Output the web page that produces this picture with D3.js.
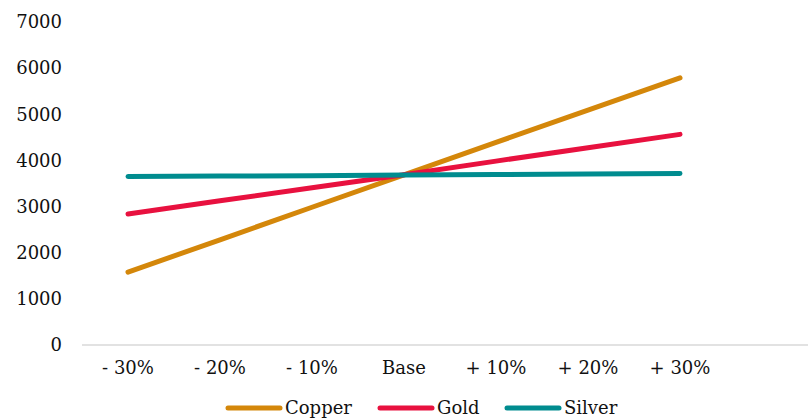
<!DOCTYPE html>
<html>
<head>
<meta charset="utf-8">
<script src="https://cdn.jsdelivr.net/npm/d3@7"></script>
<style>
  html, body { margin: 0; padding: 0; background: #fff; }
  svg { display: block; }
  text { font-family: "DejaVu Serif", "Liberation Serif", serif; fill: #111; }
</style>
</head>
<body>
<svg id="chart" width="808" height="418"></svg>
<script>
// Price scenarios relative to base case
const categories = ["- 30%", "- 20%", "- 10%", "Base", "+ 10%", "+ 20%", "+ 30%"];
const copper = [1580, 2280, 2985, 3685, 4390, 5090, 5790];
const gold   = [2840, 3125, 3410, 3690, 3985, 4275, 4565];
const silver = [3650, 3660, 3670, 3685, 3695, 3705, 3715];
const yTicks = [0, 1000, 2000, 3000, 4000, 5000, 6000, 7000];

const seriesNames = ["Copper", "Gold", "Silver"];
const seriesColors = ["#d4870a", "#e8113f", "#008c8f"];
const seriesValues = [copper, gold, silver];

const svg = d3.select("#chart");
const width = 808;
const plotLeft = 82, plotTop = 22, plotBottom = 345;

const x = d3.scaleBand().domain(categories).range([plotLeft, plotLeft + 92 * categories.length]);
const y = d3.scaleLinear().domain([0, 7000]).range([plotBottom, plotTop]);

// baseline
svg.append("line")
  .attr("x1", plotLeft).attr("x2", width)
  .attr("y1", y(0)).attr("y2", y(0))
  .attr("stroke", "#d9d9d9").attr("stroke-width", 1.5);

// y axis labels
const yAxis = d3.axisLeft(y).tickValues(yTicks).tickSize(0).tickPadding(0).tickFormat(d3.format("d"));
const gy = svg.append("g").attr("transform", "translate(62,0)").call(yAxis);
gy.select(".domain").remove();
gy.selectAll("text").style("font-family", "DejaVu Serif, serif").style("font-size", "18px").attr("fill", "#111");

// x axis labels
const xAxis = d3.axisBottom(x).tickSize(0).tickPadding(0);
const gx = svg.append("g").attr("transform", "translate(0,361)").call(xAxis);
gx.select(".domain").remove();
gx.selectAll("text").style("font-family", "DejaVu Serif, serif").style("font-size", "18px").attr("fill", "#111");

// series lines
const line = d3.line()
  .x((d, i) => x(categories[i]) + x.bandwidth() / 2)
  .y(d => y(d));

seriesValues.forEach((vals, k) => {
  svg.append("path")
    .datum(vals)
    .attr("d", line)
    .attr("fill", "none")
    .attr("stroke", seriesColors[k])
    .attr("stroke-width", 5)
    .attr("stroke-linecap", "round")
    .attr("stroke-linejoin", "round");
});

// legend
const legendItems = [
  { name: seriesNames[0], color: seriesColors[0], x: 228 },
  { name: seriesNames[1], color: seriesColors[1], x: 380 },
  { name: seriesNames[2], color: seriesColors[2], x: 507 }
];
const legendY = 408;
const lg = svg.append("g");
legendItems.forEach(it => {
  lg.append("line")
    .attr("x1", it.x).attr("x2", it.x + 52)
    .attr("y1", legendY).attr("y2", legendY)
    .attr("stroke", it.color).attr("stroke-width", 5)
    .attr("stroke-linecap", "round");
  lg.append("text")
    .attr("x", it.x + 57).attr("y", legendY)
    .attr("dy", "0.35em")
    .style("font-size", "18px")
    .text(it.name);
});
</script>
</body>
</html>
